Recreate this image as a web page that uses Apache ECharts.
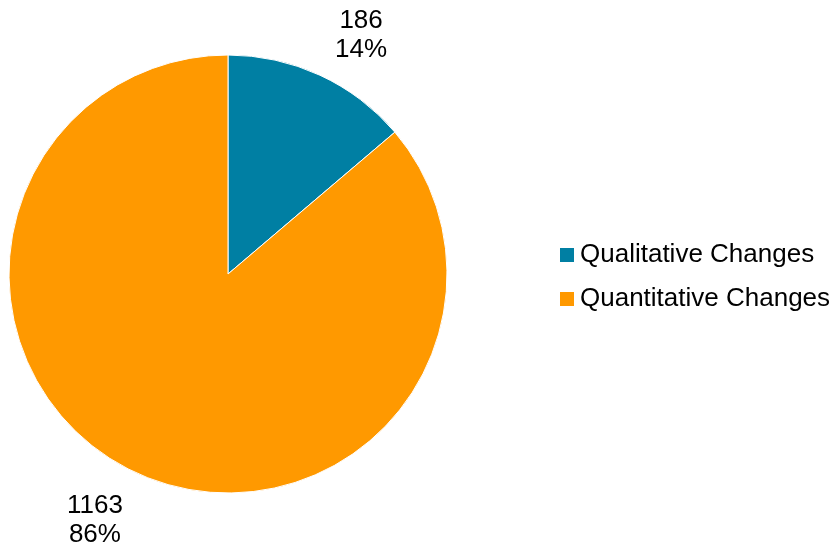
<!DOCTYPE html>
<html>
<head>
<meta charset="utf-8">
<script src="https://cdn.jsdelivr.net/npm/echarts@6/dist/echarts.min.js"></script>
<style>
  html, body { margin: 0; padding: 0; background: #fff; }
  #chart { width: 838px; height: 546px; }
</style>
</head>
<body>
<div id="chart"></div>
<script>
// Change types and their counts
const categories = ['Qualitative Changes', 'Quantitative Changes'];
const counts = [186, 1163];
const colors = ['#007FA3', '#FF9900'];

const chart = echarts.init(document.getElementById('chart'), null, { renderer: 'canvas' });

const FONT = 'Liberation Sans';

chart.setOption({
  animation: false,
  backgroundColor: '#ffffff',
  color: colors,
  legend: {
    orient: 'vertical',
    left: 553,
    top: 235,
    itemWidth: 16,
    itemHeight: 16,
    itemGap: 14,
    icon: 'rect',
    textStyle: { fontFamily: FONT, fontSize: 26, color: '#000', lineHeight: 30 },
    data: categories
  },
  series: [{
    type: 'pie',
    center: [228, 274],
    radius: 219,
    startAngle: 90,
    clockwise: true,
    percentPrecision: 0,
    avoidLabelOverlap: false,
    itemStyle: { borderColor: '#ffffff', borderWidth: 1 },
    labelLine: { show: false, length: 48, length2: 0 },
    label: {
      show: true,
      position: 'outside',
      distanceToLabelLine: -8,
      padding: [7, 0, 0, 0],
      formatter: p => '{v|' + p.value + '}\n{v|' + p.percent + '%}',
      rich: {
        v: { fontFamily: FONT, fontSize: 26, color: '#000', width: 58, align: 'center', lineHeight: 29 }
      }
    },
    data: categories.map((name, i) => ({ name, value: counts[i] }))
  }]
});
</script>
</body>
</html>
